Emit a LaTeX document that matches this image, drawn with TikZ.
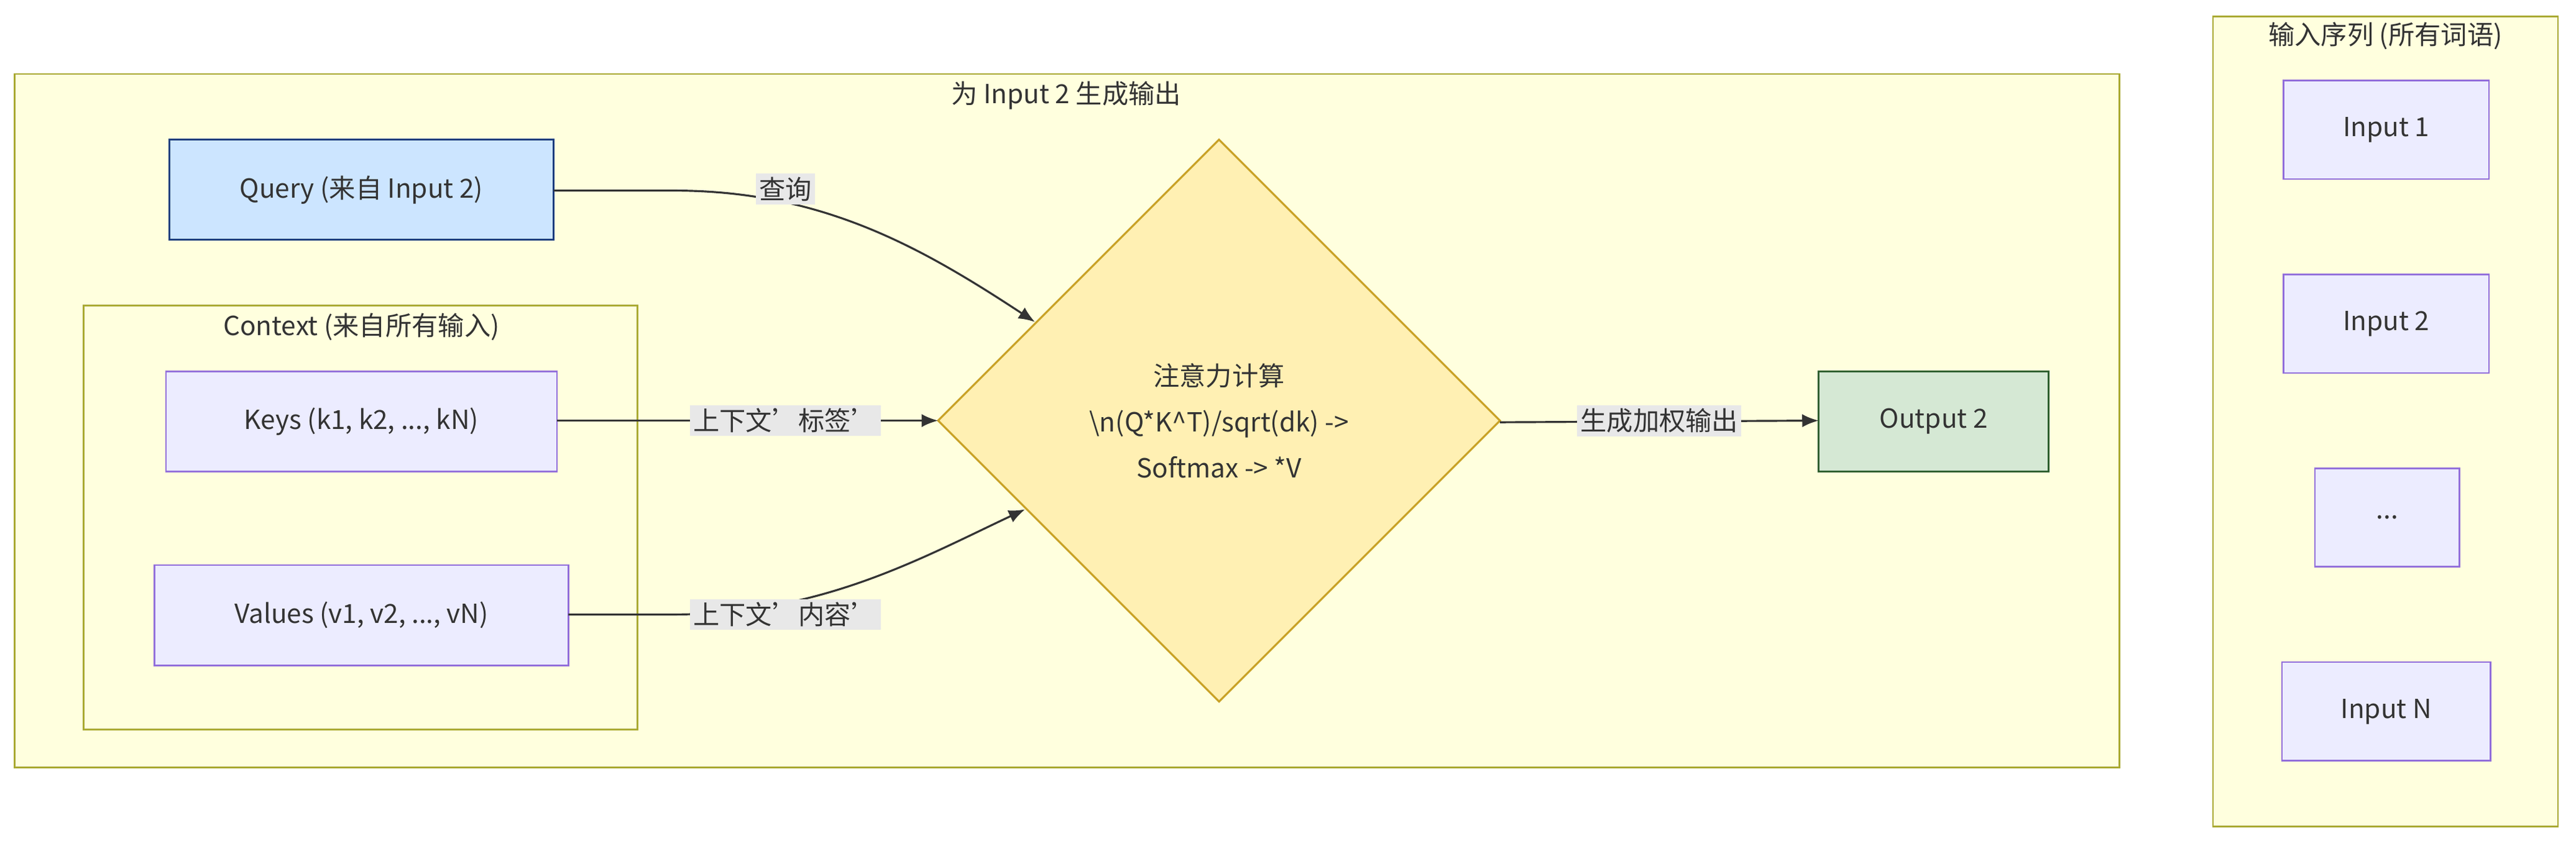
\documentclass[tikz,border=0pt]{standalone}
\usepackage{fontspec}
\setmainfont{Noto Sans CJK SC}
\usetikzlibrary{arrows.meta,shapes.geometric}
\definecolor{grpfill}{HTML}{FFFFDE}
\definecolor{grpline}{HTML}{AAAA33}
\definecolor{nfill}{HTML}{ECECFF}
\definecolor{nline}{HTML}{9370DB}
\definecolor{qfill}{HTML}{CCE5FF}
\definecolor{qline}{HTML}{1F3F7F}
\definecolor{dfill}{HTML}{FFF0B3}
\definecolor{dline}{HTML}{C9A227}
\definecolor{ofill}{HTML}{D5E8D4}
\definecolor{oline}{HTML}{2F5F2F}
\definecolor{lblbg}{HTML}{E8E8E8}
\definecolor{txt}{HTML}{333333}
\begin{document}
\begin{tikzpicture}[x=0.5pt,y=-0.5pt,font=\fontsize{8}{10}\selectfont,text=txt,
 grp/.style={draw=grpline,fill=grpfill,line width=0.5pt},
 nbox/.style={draw=nline,fill=nfill,line width=0.5pt},
 lbl/.style={fill=lblbg,inner sep=1pt},
 edge/.style={draw=txt,line width=0.6pt,-{Latex[length=5pt,width=4pt]}}]
\useasboundingbox (0,0) rectangle (1568,513);
\fill[white] (0,0) rectangle (1568,513);
% containers
\draw[grp] (9,45) rectangle (1290,467);
\node at (649,58) {为 Input 2 生成输出};
\draw[grp] (1347,10) rectangle (1557,503);
\node at (1452,22) {输入序列 (所有词语)};
\draw[grp] (51,186) rectangle (388,444);
\node at (220,199) {Context (来自所有输入)};
% input list
\draw[nbox] (1390,49) rectangle (1515,109); \node (i1) at (1452.5,79) {Input 1};
\draw[nbox] (1390,167) rectangle (1515,227); \node (i2) at (1452.5,197) {Input 2};
\draw[nbox] (1409,285) rectangle (1497,345); \node (i3) at (1453,315) {...};
\draw[nbox] (1389,403) rectangle (1516,463); \node (iN) at (1452.5,433) {Input N};
% nodes
\draw[draw=qline,fill=qfill,line width=0.6pt] (103,85) rectangle (337,146);
\node (q) at (220,115.5) {Query (来自 Input 2)};
\coordinate (qR) at (337,116);
\draw[nbox] (101,226) rectangle (339,287);
\node (k) at (220,256.5) {Keys (k1, k2, ..., kN)};
\coordinate (kR) at (339,256);
\draw[nbox] (94,344) rectangle (346,405);
\node (v) at (220,374.5) {Values (v1, v2, ..., vN)};
\coordinate (vR) at (346,374);
\draw[draw=dline,fill=dfill,line width=0.6pt] (742,85) -- (913,256) -- (742,427) -- (571,256) -- cycle;
\coordinate (dL) at (571,256);
\coordinate (dR) at (913,257);
\coordinate (dUL) at (630,196);
\coordinate (dLL) at (624,310);
\node (d) at (742,256) [align=center,font=\fontsize{8}{14}\selectfont] {注意力计算\\\textbackslash n(Q*K\textasciicircum T)/sqrt(dk) ->\\Softmax -> *V};
\draw[draw=oline,fill=ofill,line width=0.6pt] (1107,226) rectangle (1247,287);
\node (o) at (1177,256.5) {Output 2};
\coordinate (oL) at (1107,256);
% edges
\draw[edge] (qR) -- (410,116) .. controls (500,116) and (560,150) .. (dUL);
\draw[edge] (kR) -- (dL);
\draw[edge] (vR) -- (410,374) .. controls (500,374) and (560,340) .. (dLL);
\draw[edge] (dR) -- (oL);
\node[lbl] at (478,115) {查询};
\node[lbl] at (478,256) {上下文'标签'};
\node[lbl] at (478,374) {上下文'内容'};
\node[lbl] at (1010,256) {生成加权输出};
\end{tikzpicture}
\end{document}
